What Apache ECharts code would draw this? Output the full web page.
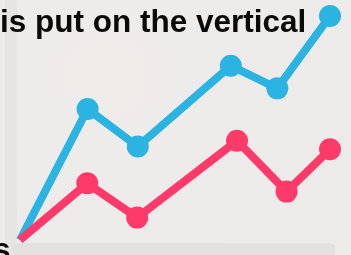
<!DOCTYPE html>
<html>
	<head>
		<meta charset="UTF-8">
		<title></title>
		<style>
			html, body { margin: 0; padding: 0; }
			#chart { width: 351px; height: 255px; }
		</style>
	</head>
	<body>
		<div id="chart"></div>

		<script src="https://cdn.jsdelivr.net/npm/echarts@6/dist/echarts.min.js"></script>
		<script>
			// 数据（横轴 0-10，纵轴 0-100）
			var blueX = [0, 2.18, 3.8, 6.8, 8.3, 10];
			var blueY = [0, 58.5, 41.7, 77.8, 67.7, 100];
			var redX = [0, 2.17, 3.78, 7.0, 8.6, 10];
			var redY = [0, 25.3, 10, 44.3, 21.6, 40.5];
			var titleText = 'is put on the vertical';
			var bottomText = 's';

			function pairs(xs, ys) {
				var out = [];
				for (var i = 0; i < xs.length; i++) {
					// 第一个点不画圆点
					out.push({ value: [xs[i], ys[i]], symbolSize: i === 0 ? 0 : 22 });
				}
				return out;
			}

			var myChart = echarts.init(document.getElementById('chart'));

			var option = {
				backgroundColor: {
					type: 'radial', x: 0.3, y: 0.3, r: 0.9,
					colorStops: [
						{ offset: 0, color: '#efecea' },
						{ offset: 1, color: '#ecebea' }
					]
				},
				animation: false,
				grid: { left: 20, right: 21, top: 16, bottom: 15 },
				xAxis: { type: 'value', min: 0, max: 10, show: false },
				yAxis: { type: 'value', min: 0, max: 100, show: false },
				graphic: [
					{ type: 'rect', z: -10, shape: { x: 5, y: 0, width: 12, height: 255 },
						style: { fill: '#e6e5e4' } },
					{ type: 'rect', z: -10, shape: { x: 13, y: 243, width: 322, height: 20, r: 6 },
						style: { fill: '#e2e1e0' } },
					{ type: 'text', z: 10, left: 0, top: 7,
						style: { text: titleText, fill: '#0a0a0a',
							font: 'bold 31.5px "Liberation Sans", Arial, sans-serif' } },
					{ type: 'text', z: 10, left: -7, top: 235,
						style: { text: bottomText, fill: '#0a0a0a',
							font: 'bold 31.5px "Liberation Sans", Arial, sans-serif' } }
				],
				series: [
					{
						type: 'line',
						data: pairs(blueX, blueY),
						symbol: 'circle',
						clip: false,
						itemStyle: { color: '#2bb4e2' },
						lineStyle: { color: '#2bb4e2', width: 8 }
					},
					{
						type: 'line',
						data: pairs(redX, redY),
						symbol: 'circle',
						clip: false,
						itemStyle: { color: '#fe3a6a' },
						lineStyle: { color: '#fe3a6a', width: 8 }
					}
				]
			};

			myChart.setOption(option);
		</script>
	</body>
</html>
